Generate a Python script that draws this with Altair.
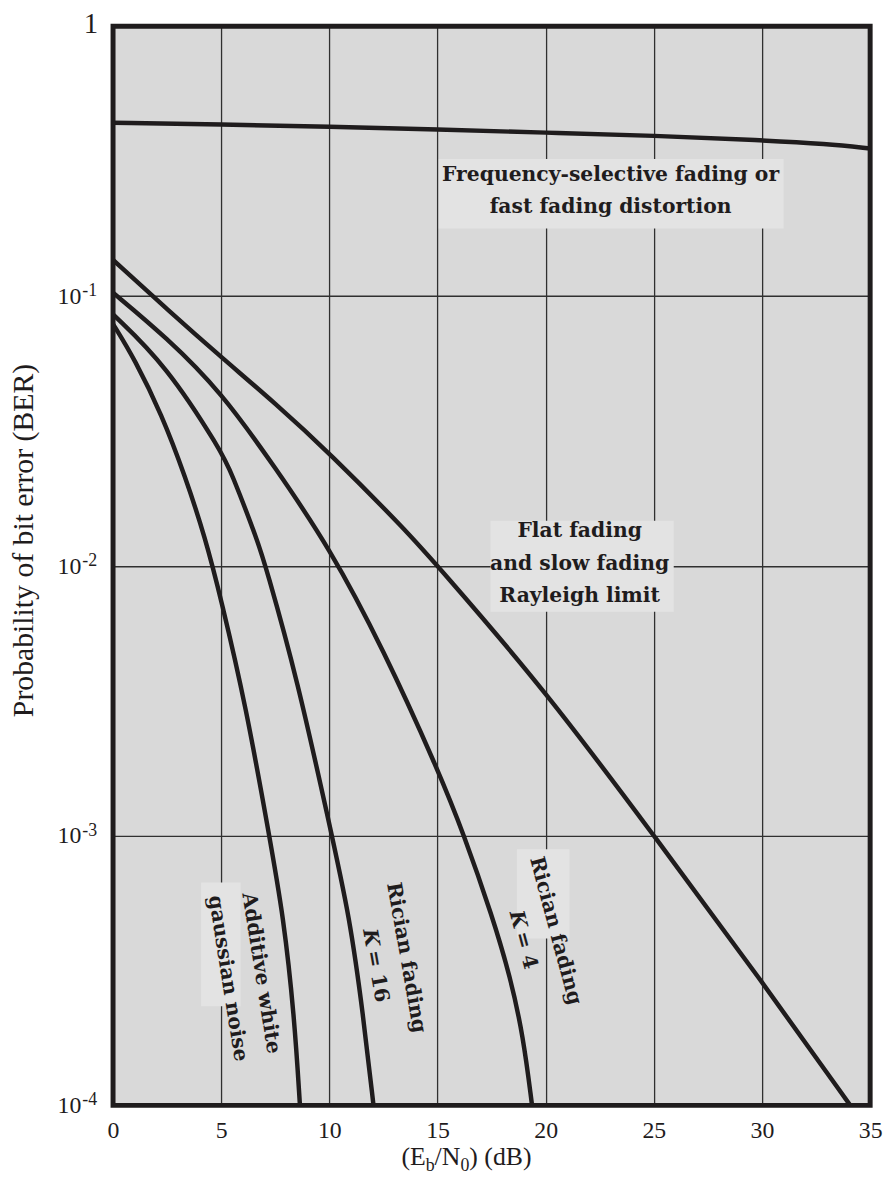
import altair as alt
import pandas as pd

# ---------------- data ----------------
X_TICKS = [0, 5, 10, 15, 20, 25, 30, 35]
Y_GRID = [0.1, 0.01, 0.001]
Y_TICK_VALUES = [0.1, 0.01, 0.001, 0.0001]
Y_TICK_SUPS = ["-1", "-2", "-3", "-4"]

fsel_x = [0, 5, 10, 15, 20, 25, 30, 33, 35]
fsel_y = [0.439, 0.432, 0.424, 0.414, 0.403, 0.393, 0.378, 0.366, 0.352]

ray_x = [0, 2.5, 5, 7.5, 10, 13.55, 15, 20, 25, 30, 34.08]
ray_y = [0.136, 0.0892, 0.0593, 0.0400, 0.0262, 0.0135, 0.0100, 0.00344, 0.00100, 0.000288, 0.0001]

k4_x = [0, 2.46, 5, 7.5, 10, 12.5, 15, 16.22, 17.54, 18.36, 18.96, 19.37]
k4_y = [0.1028, 0.0703, 0.0441, 0.0231, 0.0117, 0.0049, 0.00177, 0.00101, 0.0005, 0.0003, 0.000181, 0.0001]

k16_x = [0, 2.46, 5.0, 5.45, 6.68, 7.05, 8.52, 10.0, 10.94, 11.57, 12.04]
k16_y = [0.0855, 0.0554, 0.0266, 0.0224, 0.0124, 0.0100, 0.0038, 0.0011, 0.0005, 0.000214, 0.0001]

awgn_x = [0, 1, 2.26, 3.33, 4.25, 5.0, 6.15, 7.22, 7.88, 8.38, 8.64]
awgn_y = [0.0787, 0.0583, 0.0362, 0.0215, 0.0128, 0.0075, 0.0030, 0.0010, 0.0005, 0.000214, 0.0001]

# label background boxes (x, x2, y, y2 in data units)
box_x = [15.06, 17.45, 4.07, 18.67]
box_x2 = [31.0, 25.92, 5.9, 21.1]
box_y = [0.178, 0.00675, 0.000233, 0.000415]
box_y2 = [0.322, 0.01469, 0.00067, 0.000889]

# ---------------- style ----------------
INK = "#1f1c1d"
GRID = "#303030"
BG = "#d9d9d9"
BOXBG = "#e3e3e3"
SERIF = "Liberation Serif"
LABELFONT = "DejaVu Serif"
W, H = 764, 1089

rows = []
for name, xs, ys in [("fsel", fsel_x, fsel_y), ("ray", ray_x, ray_y), ("k4", k4_x, k4_y),
                     ("k16", k16_x, k16_y), ("awgn", awgn_x, awgn_y)]:
    for i, (a, b) in enumerate(zip(xs, ys)):
        rows.append({"series": name, "x": a, "y": b, "o": i})
curves = pd.DataFrame(rows)

xscale = alt.Scale(domain=[0, 35], nice=False, zero=False)
yscale = alt.Scale(type="log", domain=[0.0001, 1], nice=False)
xaxis = alt.Axis(values=X_TICKS, grid=True, gridColor=GRID, gridWidth=1.3, gridOpacity=1,
                 ticks=False, tickSize=0, domain=False, labelFont=SERIF, labelFontSize=24,
                 labelColor=INK, labelPadding=13, labelFlush=False, labelOverlap=False, title=None)
yaxis = alt.Axis(values=Y_GRID, grid=True, gridColor=GRID, gridWidth=1.3, gridOpacity=1,
                 ticks=False, tickSize=0, domain=False, labels=False, title=None)


def X(f="x"):
    return alt.X(f"{f}:Q", scale=xscale, axis=xaxis)


def Y(f="y"):
    return alt.Y(f"{f}:Q", scale=yscale, axis=yaxis)


dummy = pd.DataFrame({"a": [0]})
layers = []

# label boxes
boxes = pd.DataFrame({"x": box_x, "x2": box_x2, "y": box_y, "y2": box_y2})
layers.append(alt.Chart(boxes).mark_rect(color=BOXBG).encode(
    x=X(), x2="x2:Q", y=Y(), y2="y2:Q"))

# curves
layers.append(alt.Chart(curves).mark_line(strokeWidth=4.5, color=INK, interpolate="basis", clip=True).encode(
    x=X(), y=Y(), detail="series:N", order="o:Q"))

# annotation labels
def add_label(ax, ay, lines, angle, spacing, size=20.5):
    df = pd.DataFrame({"x": [ax], "y": [ay]})
    n = len(lines)
    for i, parts in enumerate(lines):
        dy = (i - (n - 1) / 2) * spacing
        for txt, style, align, dx in parts:
            kw = dict(text=txt, font=LABELFONT, fontSize=size, fontWeight="bold", color=INK,
                      align=align, baseline="middle", dx=dx, dy=dy)
            if angle:
                kw["angle"] = angle
            if style == "italic":
                kw["fontStyle"] = "italic"
            layers.append(alt.Chart(df).mark_text(**kw).encode(x=X(), y=Y()))


add_label(23.0, 0.2447, [[("Frequency-selective fading or", "n", "center", 0)],
                         [("fast fading distortion", "n", "center", 0)]], 0, 32)
add_label(21.57, 0.01017, [[("Flat fading", "n", "center", 0)],
                           [("and slow fading", "n", "center", 0)],
                           [("Rayleigh limit", "n", "center", 0)]], 0, 33)
add_label(6.07, 3.02e-4, [[("Additive white", "n", "center", 0)],
                          [("gaussian noise", "n", "center", 0)]], 81, 34)
add_label(12.83, 3.445e-4, [[("Rician fading", "n", "center", 0)],
                            [("K", "italic", "left", -35), ("= 16", "n", "left", -13)]], 80, 32)
add_label(19.70, 4.272e-4, [[("Rician fading", "n", "center", 0)],
                            [("K", "italic", "left", -30), ("= 4", "n", "left", -8)]], 75, 34)

# y tick labels (10 with superscript exponent)
ytick = pd.DataFrame({"y": Y_TICK_VALUES, "sup": Y_TICK_SUPS})
layers.append(alt.Chart(ytick).mark_text(text="10", font=SERIF, fontSize=24, color=INK, align="right",
                                         baseline="alphabetic", dy=8).encode(x=alt.value(-32), y=Y()))
layers.append(alt.Chart(ytick).mark_text(font=SERIF, fontSize=18, color=INK, align="left",
                                         baseline="alphabetic", dy=0).encode(x=alt.value(-31), y=Y(), text="sup:N"))
layers.append(alt.Chart(pd.DataFrame({"y": [1.0]})).mark_text(text="1", font=SERIF, fontSize=29, color=INK,
                                                            align="right", baseline="alphabetic", dy=7).encode(
    x=alt.value(-15), y=Y()))

# axis titles
layers.append(alt.Chart(dummy).mark_text(text="Probability of bit error (BER)", font=SERIF, fontSize=30,
                                         color=INK, angle=270, align="center", baseline="alphabetic").encode(
    x=alt.value(-81), y=alt.value(519)))
title_parts = [("(E", 26, 291, 0), ("b", 18, 315.5, 6), ("/N", 26, 324.5, 0), ("0", 18, 350.5, 6),
               (") (dB)", 26, 359.5, 0)]
for txt, fs, px, sub in title_parts:
    layers.append(alt.Chart(dummy).mark_text(text=txt, font=SERIF, fontSize=fs, color=INK, align="left",
                                             baseline="alphabetic", dy=sub).encode(
        x=alt.value(px), y=alt.value(1149)))

# frame
layers.append(alt.Chart(dummy).mark_rect(fillOpacity=0, stroke=INK, strokeWidth=5).encode(
    x=alt.value(0), x2=alt.value(W), y=alt.value(0), y2=alt.value(H)))

chart = alt.layer(*layers).properties(
    width=W, height=H,
    autosize=alt.AutoSizeParams(type="none"),
    padding={"left": 106, "top": 13, "right": 16, "bottom": 74},
    background="white",
).configure_view(fill=BG, strokeWidth=0)

chart.save("out.html", embed_options={"renderer": "svg", "actions": False})
